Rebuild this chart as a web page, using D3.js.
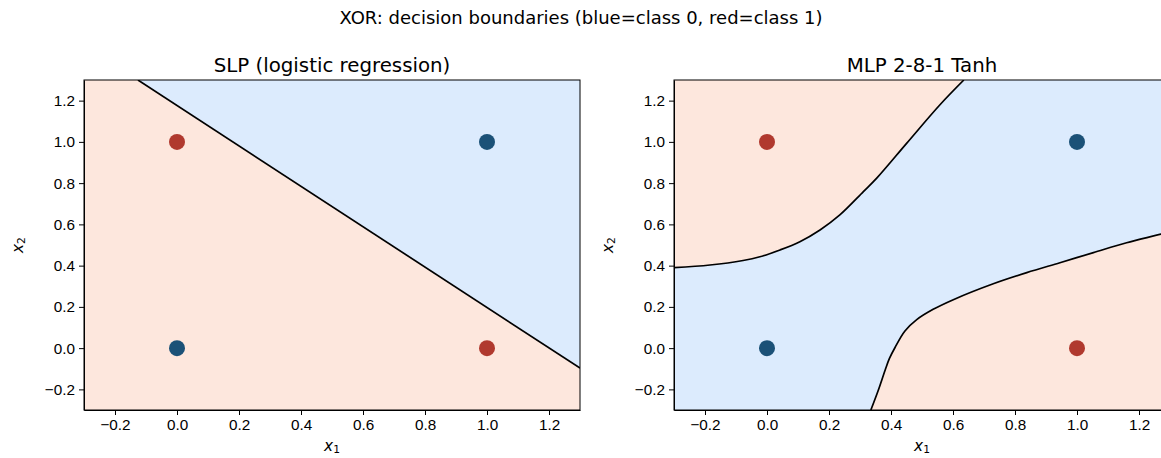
<!DOCTYPE html>
<html>
<head>
<meta charset="utf-8">
<script src="https://cdn.jsdelivr.net/npm/d3@7"></script>
<style>
  body { margin: 0; background: #fff; }
  svg { font-family: "DejaVu Sans", sans-serif; }
  .axis text { font-size: 15.3px; fill: #000; }
  .axis path, .axis line { stroke: #000; stroke-width: 1px; }
</style>
</head>
<body>
<div id="chart"></div>
<script>
// tick labels
var xTicks = [-0.2, 0.0, 0.2, 0.4, 0.6, 0.8, 1.0, 1.2];
var yTicks = [-0.2, 0.0, 0.2, 0.4, 0.6, 0.8, 1.0, 1.2];
var domainX = [-0.3, 1.3];
var domainY = [-0.3, 1.3];

// XOR points
var pointX = [0, 1, 0, 1];
var pointY = [0, 0, 1, 1];
var pointClass = [0, 1, 1, 0];

// decision boundary
var slpBoundary = [[-0.126, 1.3], [1.3, -0.097]];
var mlpUpper = [[-0.3, 0.39], [-0.184, 0.403], [-0.077, 0.425], [-0.023, 0.443], [0.042, 0.476],
  [0.106, 0.516], [0.171, 0.573], [0.235, 0.646], [0.311, 0.759], [0.354, 0.824],
  [0.451, 0.994], [0.558, 1.18], [0.635, 1.3]];
var mlpLower = [[0.335, -0.3], [0.359, -0.204], [0.381, -0.107], [0.395, -0.05], [0.413, 0.003],
  [0.445, 0.083], [0.483, 0.138], [0.536, 0.188], [0.601, 0.235], [0.73, 0.312],
  [0.838, 0.366], [0.945, 0.414], [1.053, 0.463], [1.16, 0.511], [1.271, 0.553], [1.3, 0.566]];

var blueFill = "#dcebfd", redFill = "#fde7dd";
var dotColor = ["#1b5177", "#b0392e"];

var svg = d3.select("#chart").append("svg")
  .attr("width", 1161).attr("height", 458);

svg.append("text")
  .attr("x", 581).attr("y", 24)
  .attr("text-anchor", "middle")
  .style("font-size", "18px")
  .text("XOR: decision boundaries (blue=class 0, red=class 1)");

function fmt(d) { return d3.format(".1f")(d).replace("-", "\u2212"); }

function drawPanel(id, left, right, title, bgColor, regions, curves) {
  var top = 80, bottom = 410;
  var x = d3.scaleLinear().domain(domainX).range([left, right]);
  var y = d3.scaleLinear().domain(domainY).range([bottom, top]);
  var line = d3.line().curve(d3.curveCatmullRom.alpha(0.5))
    .x(function(d) { return x(d[0]); }).y(function(d) { return y(d[1]); });

  svg.append("clipPath").attr("id", "clip" + id)
    .append("rect").attr("x", left).attr("y", top)
    .attr("width", right - left).attr("height", bottom - top);

  var g = svg.append("g").attr("clip-path", "url(#clip" + id + ")");
  g.append("rect").attr("x", left).attr("y", top)
    .attr("width", right - left).attr("height", bottom - top)
    .attr("fill", bgColor);

  regions.forEach(function(r) {
    g.append("path").attr("d", line(r.curve) + "L" + r.corners.map(function(c) {
      return x(c[0]) + "," + y(c[1]);
    }).join("L") + "Z").attr("fill", r.color);
  });
  curves.forEach(function(c) {
    g.append("path").attr("d", line(c))
      .attr("fill", "none").attr("stroke", "#000").attr("stroke-width", 1.7);
  });

  g.selectAll("circle.pt").data(pointX).enter().append("circle")
    .attr("cx", function(d) { return x(d); })
    .attr("cy", function(d, i) { return y(pointY[i]); })
    .attr("r", 8)
    .attr("fill", function(d, i) { return dotColor[pointClass[i]]; });

  svg.append("g").attr("class", "axis")
    .attr("transform", "translate(0," + bottom + ")")
    .call(d3.axisBottom(x).tickValues(xTicks).tickSize(5).tickSizeOuter(0).tickPadding(4).tickFormat(fmt));
  svg.append("g").attr("class", "axis")
    .attr("transform", "translate(" + left + ",0)")
    .call(d3.axisLeft(y).tickValues(yTicks).tickSize(5).tickSizeOuter(0).tickPadding(4).tickFormat(fmt));

  // frame
  svg.append("rect").attr("x", left).attr("y", top)
    .attr("width", right - left).attr("height", bottom - top)
    .attr("fill", "none").attr("stroke", "#000").attr("stroke-width", 1);

  svg.append("text").attr("x", (left + right) / 2).attr("y", 72)
    .attr("text-anchor", "middle").style("font-size", "19.8px").text(title);

  var xl = svg.append("text").attr("x", (left + right) / 2).attr("y", 451)
    .attr("text-anchor", "middle").style("font-size", "15.3px");
  xl.append("tspan").style("font-style", "italic").text("x");
  xl.append("tspan").attr("dy", 2).style("font-size", "10.7px").text("1");

  var yl = svg.append("text")
    .attr("transform", "translate(" + (left - 61) + "," + ((top + bottom) / 2) + ") rotate(-90)")
    .attr("text-anchor", "middle").style("font-size", "15.3px");
  yl.append("tspan").style("font-style", "italic").text("x");
  yl.append("tspan").attr("dy", 2).style("font-size", "10.7px").text("2");
}

// SLP: red below the line, blue above
drawPanel("a", 84, 580, "SLP (logistic regression)", redFill,
  [{ curve: slpBoundary, corners: [[1.3, 1.3]], color: blueFill }],
  [slpBoundary]);

// MLP: blue band, red corners
drawPanel("b", 674, 1170, "MLP 2-8-1 Tanh", blueFill,
  [{ curve: mlpUpper, corners: [[-0.3, 1.3]], color: redFill },
   { curve: mlpLower, corners: [[1.3, -0.3]], color: redFill }],
  [mlpUpper, mlpLower]);
</script>
</body>
</html>
